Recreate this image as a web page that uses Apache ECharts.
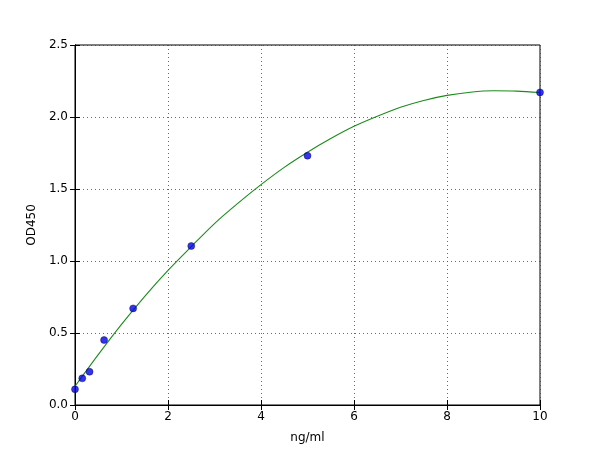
<!DOCTYPE html>
<html>
<head>
<meta charset="utf-8">
<script src="https://cdn.jsdelivr.net/npm/echarts@6/dist/echarts.min.js"></script>
<style>
html,body{margin:0;padding:0;background:#fff;}
#c{width:600px;height:450px;}
</style>
</head>
<body>
<div id="c"></div>
<script>
// Measured standards
const concentrations = [0, 0.156, 0.3125, 0.625, 1.25, 2.5, 5, 10];
const odValues = [0.109, 0.185, 0.231, 0.451, 0.671, 1.104, 1.731, 2.171];
// Fitted curve
const curveX = [0, 0.5, 1, 1.5, 2, 2.5, 3, 3.5, 4, 4.5, 5, 5.5, 6, 6.5, 7, 7.5, 8, 8.5, 9, 9.5, 10];
const curveY = [0.13, 0.35, 0.56, 0.755, 0.935, 1.10, 1.26, 1.40, 1.53, 1.65, 1.755, 1.85, 1.935, 2.005, 2.068, 2.115, 2.15, 2.172, 2.182, 2.18, 2.17];
const xTitle = 'ng/ml';
const yTitle = 'OD450';

const font = 'DejaVu Sans';
const gridLine = {show: true, lineStyle: {color: '#444', width: 0.8, type: [1, 3]}};
const chart = echarts.init(document.getElementById('c'));
chart.setOption({
  animation: false,
  backgroundColor: '#fff',
  grid: {left: 75, top: 45, width: 465, height: 360, show: true, borderColor: '#000', borderWidth: 1},
  xAxis: [{
    type: 'value', min: 0, max: 10, interval: 2,
    name: xTitle, nameLocation: 'middle', nameGap: 27,
    nameTextStyle: {fontFamily: font, fontSize: 12, color: '#000'},
    axisLine: {show: true, lineStyle: {color: '#000', width: 1}},
    axisTick: {show: true, inside: true, length: 5, lineStyle: {color: '#000'}},
    axisLabel: {fontFamily: font, fontSize: 12, color: '#000', margin: 6},
    splitLine: gridLine
  }, {
    type: 'value', min: 0, max: 10, interval: 2, position: 'top',
    axisLine: {show: true, lineStyle: {color: '#000', width: 1}},
    axisTick: {show: true, inside: true, length: 5, lineStyle: {color: '#000'}},
    axisLabel: {show: false}, splitLine: {show: false}
  }],
  yAxis: [{
    type: 'value', min: 0, max: 2.5, interval: 0.5,
    name: yTitle, nameLocation: 'middle', nameGap: 37,
    nameTextStyle: {fontFamily: font, fontSize: 12, color: '#000'},
    axisLine: {show: true, lineStyle: {color: '#000', width: 1}},
    axisTick: {show: true, inside: true, length: 5, lineStyle: {color: '#000'}},
    axisLabel: {fontFamily: font, fontSize: 12, color: '#000', margin: 7, formatter: v => v.toFixed(1)},
    splitLine: gridLine
  }, {
    type: 'value', min: 0, max: 2.5, interval: 0.5, position: 'right',
    axisLine: {show: true, lineStyle: {color: '#000', width: 1}},
    axisTick: {show: true, inside: true, length: 5, lineStyle: {color: '#000'}},
    axisLabel: {show: false}, splitLine: {show: false}
  }],
  series: [{
    type: 'line',
    data: curveX.map((x, i) => [x, curveY[i]]),
    smooth: 0.3,
    showSymbol: false,
    lineStyle: {color: '#1a8c1a', width: 1.1},
    z: 2
  }, {
    type: 'scatter',
    data: concentrations.map((x, i) => [x, odValues[i]]),
    symbol: 'circle',
    symbolSize: 7,
    itemStyle: {color: '#0000ee', borderColor: '#000033', borderWidth: 0.5},
    z: 3
  }]
});
</script>
</body>
</html>
